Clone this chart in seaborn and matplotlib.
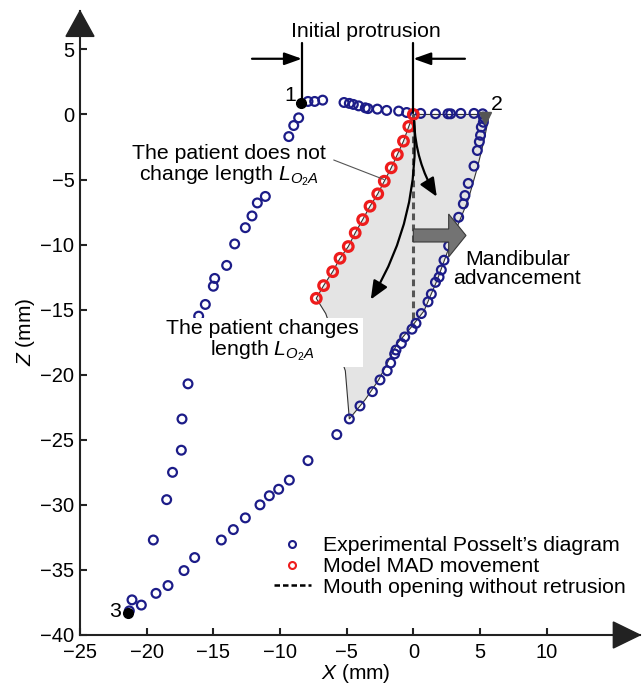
import numpy as np
import pandas as pd
import seaborn as sns
import matplotlib
matplotlib.use("Agg")
import matplotlib.pyplot as plt
from matplotlib.lines import Line2D
from matplotlib.patches import Polygon, FancyArrowPatch

# ---------------- data ----------------
# Experimental Posselt's diagram (blue open circles)
top_x = [-7.9, -7.4, -6.8, -5.2, -4.8, -4.5, -4.1, -3.6, -3.4, -2.7, -2.0, -1.1, -0.5,
         0.55, 1.66, 2.6, 2.8, 3.56, 4.55, 5.2]
top_z = [1.0, 1.0, 1.1, 0.92, 0.85, 0.77, 0.66, 0.51, 0.45, 0.41, 0.31, 0.26, 0.15,
         0.08, 0.05, 0.05, 0.05, 0.08, 0.08, 0.05]
right_x = [5.25, 5.25, 5.1, 5.04, 4.95, 4.8, 4.55, 4.12, 3.87, 3.75, 3.4, 2.65, 2.3, 2.1,
           1.93, 1.66, 1.35, 1.1, 0.6, 0.2, -0.1, -0.65, -0.9, -1.3, -1.4, -1.7, -1.96,
           -2.5, -3.07, -4.0, -4.8, -5.74, -7.9, -9.3, -10.1, -10.8, -11.5, -12.6, -13.5,
           -14.4, -16.4, -17.2, -18.4, -19.3, -20.4, -21.1, -21.3]
right_z = [-0.2, -0.6, -0.97, -1.6, -2.1, -2.77, -3.97, -5.3, -6.23, -6.87, -7.9, -10.1,
           -11.2, -11.95, -12.5, -12.9, -13.8, -14.4, -15.3, -16.05, -16.5, -17.1, -17.6,
           -18.1, -18.4, -19.1, -19.7, -20.4, -21.3, -22.4, -23.4, -24.6, -26.6, -28.1,
           -28.8, -29.3, -30.0, -31.0, -31.9, -32.7, -34.05, -35.05, -36.2, -36.8, -37.7,
           -37.3, -38.15]
left_x = [-19.5, -18.5, -18.06, -17.4, -17.35, -16.9, -16.1, -15.6, -15.0, -14.9, -14.0,
          -13.4, -12.6, -12.1, -11.7, -11.1, -9.34, -8.97, -8.6]
left_z = [-32.7, -29.6, -27.5, -25.8, -23.4, -20.7, -15.5, -14.6, -13.2, -12.6, -11.6,
          -9.95, -8.7, -7.8, -6.8, -6.3, -1.7, -0.85, -0.26]

# Model MAD movement (red open circles)
mad_x = [0.0, -0.34, -0.74, -1.2, -1.66, -2.18, -2.67, -3.25, -3.8, -4.36, -4.88, -5.5,
         -6.05, -6.73, -7.28]
mad_z = [0.0, -0.92, -2.05, -3.08, -4.1, -5.13, -6.1, -7.05, -8.08, -9.1, -10.15, -11.05,
         -12.08, -13.15, -14.13]

# Boundary of shaded region (below red line, then model limit curve)
lower_x = [-6.57, -5.1, -4.8]
lower_z = [-15.3, -19.7, -23.4]
curve_x = [-3.6, -2.6, -1.2, -0.2, 0.8, 1.8, 2.65, 3.3, 4.1, 4.8, 5.3, 5.7]
curve_z = [-21.9, -20.4, -17.6, -16.4, -15.1, -12.7, -10.3, -8.6, -6.6, -4.1, -2.0, 0.0]

# Special positions
p1 = (-8.4, 0.9)
p2 = (5.35, -0.3)
p3 = (-21.4, -38.3)

x_ticks = [-25, -20, -15, -10, -5, 0, 5, 10]
z_ticks = [-40, -35, -30, -25, -20, -15, -10, -5, 0, 5]

exp_df = pd.DataFrame({"X": top_x + right_x + left_x, "Z": top_z + right_z + left_z})
mad_df = pd.DataFrame({"X": mad_x, "Z": mad_z})

# ---------------- style ----------------
sns.set_theme(style="white")
plt.rcParams["font.family"] = ["Liberation Sans", "DejaVu Sans"]
plt.rcParams["mathtext.fontset"] = "custom"
plt.rcParams["mathtext.rm"] = "Liberation Sans"
plt.rcParams["mathtext.it"] = "Liberation Sans:italic"
for k in ["text.color", "axes.labelcolor", "xtick.color", "ytick.color"]:
    plt.rcParams[k] = "black"
FS = 15.3
TFS = 14.5

BLUE = "#1c1c88"
RED = "#ee1c1c"

fig = plt.figure(figsize=(6.42, 6.86), dpi=100)
ax = fig.add_axes([80 / 642, 51 / 686, 560 / 642, 624 / 686])
ax.set_xlim(-25, 17)
ax.set_ylim(-40, 7.95)

# shaded region
poly_x = mad_x + lower_x + curve_x
poly_z = mad_z + lower_z + curve_z
ax.add_patch(Polygon(np.column_stack([poly_x, poly_z]), closed=True, facecolor="#e4e4e4",
                     edgecolor="#333333", linewidth=0.8, zorder=1))

# mouth opening without retrusion (dashed)
ax.plot([0, 0], [0, -16.1], color="#555555", lw=2.2, ls=(0, (2.2, 1.4)), zorder=2)

# scatter points
sns.scatterplot(data=exp_df, x="X", y="Z", ax=ax, marker="o", s=40, facecolor="none",
                edgecolor=BLUE, linewidth=1.6, zorder=3, legend=False)
sns.scatterplot(data=mad_df, x="X", y="Z", ax=ax, marker="o", s=48, facecolor="none",
                edgecolor=RED, linewidth=2.3, zorder=4, legend=False)

# special points
ax.plot(*p1, marker="o", ms=7, color="black", zorder=5)
ax.plot(*p3, marker="o", ms=7, color="black", zorder=5)
ax.plot(*p2, marker="v", ms=9, color="#555555", zorder=5)
ax.text(p1[0] - 0.4, p1[1] + 0.55, "1", fontsize=FS, ha="right", va="center")
ax.text(p2[0] + 0.45, p2[1] + 1.1, "2", fontsize=FS, ha="left", va="center")
ax.text(p3[0] - 0.5, p3[1] + 0.1, "3", fontsize=FS, ha="right", va="center")

# curved black arrows
for end, rad in [((-3.3, -14.4), -0.16), ((1.87, -6.5), 0.14)]:
    ar = FancyArrowPatch((0.05, -0.3), end, connectionstyle=f"arc3,rad={rad}",
                         arrowstyle="-|>,head_length=0.7,head_width=0.3",
                         mutation_scale=16, color="black", lw=1.6, zorder=6)
    ax.add_patch(ar)

# big grey arrow (mandibular advancement)
ax.arrow(0, -9.3, 3.95, 0, width=1.0, head_width=3.3, head_length=1.3,
         length_includes_head=True, fc="#737373", ec="#3a3a3a", lw=0.8, zorder=6)
ax.text(7.8, -11.9, "Mandibular\nadvancement", fontsize=FS, ha="center", va="center",
        linespacing=1.0, zorder=7)

# initial protrusion
ax.plot([-8.36, -8.36], [1.1, 5.5], color="black", lw=1.6, zorder=5)
ax.plot([0, 0], [0.1, 5.5], color="black", lw=1.6, zorder=5)
ax.annotate("", xy=(-8.36, 4.28), xytext=(-12.1, 4.28),
            arrowprops=dict(arrowstyle="-|>,head_length=0.7,head_width=0.25",
                            mutation_scale=15, color="black", lw=1.6, shrinkA=0, shrinkB=0))
ax.annotate("", xy=(0, 4.28), xytext=(3.87, 4.28),
            arrowprops=dict(arrowstyle="-|>,head_length=0.7,head_width=0.25",
                            mutation_scale=15, color="black", lw=1.6, shrinkA=0, shrinkB=0))
ax.text(-3.58, 6.4, "Initial protrusion", fontsize=FS, ha="center", va="center")

# annotations
ax.plot([-5.97, -2.2], [-3.5, -5.0], color="#555555", lw=0.8, zorder=5)
ax.text(-13.8, -3.95, "The patient does not\nchange length $L_{O_2A}$", fontsize=FS,
        ha="center", va="center", linespacing=1.0, zorder=8,
        bbox=dict(facecolor="white", edgecolor="none", pad=1.5))
ax.text(-11.35, -17.4, "The patient changes\nlength $L_{O_2A}$", fontsize=FS,
        ha="center", va="center", linespacing=1.0, zorder=8,
        bbox=dict(facecolor="white", edgecolor="none", pad=3))

# axes styling
for s in ["top", "right"]:
    ax.spines[s].set_visible(False)
for s in ["left", "bottom"]:
    ax.spines[s].set_linewidth(1.5)
    ax.spines[s].set_color("#222222")
ax.set_xticks(x_ticks)
ax.set_yticks(z_ticks)
ax.tick_params(axis="both", direction="in", length=5, width=1.5, labelsize=TFS,
               color="#222222", pad=4)
ax.tick_params(axis="x", pad=6)
ax.tick_params(axis="y", left=True)
ax.tick_params(axis="x", bottom=True)
ax.set_xlabel("$\\it{X}$ (mm)", fontsize=15)
ax.set_ylabel("$\\it{Z}$ (mm)", fontsize=15)
ax.xaxis.set_label_coords(0.493, -0.044)
ax.yaxis.set_label_coords(-0.076, 0.486)

# axis arrows
ax.add_patch(Polygon([[15.0, -41.0], [17.0, -40.0], [15.0, -39.0]], closed=True,
                     color="#222222", clip_on=False, zorder=9))
ax.add_patch(Polygon([[-26.05, 6.0], [-25.0, 7.95], [-23.95, 6.0]], closed=True,
                     color="#222222", clip_on=False, zorder=9))

# legend
handles = [
    Line2D([], [], marker="o", ls="none", mfc="none", mec=BLUE, ms=5, mew=1.5),
    Line2D([], [], marker="o", ls="none", mfc="none", mec=RED, ms=5, mew=1.5),
    Line2D([], [], color="black", lw=1.8, ls=(0, (2.2, 1.2))),
]
labels = ["Experimental Posselt\u2019s diagram", "Model MAD movement",
          "Mouth opening without retrusion"]
ax.legend(handles, labels, loc="upper left", bbox_to_anchor=(0.346, 0.158),
          frameon=False, fontsize=FS, handlelength=1.75, handletextpad=0.55,
          labelspacing=0.08, borderpad=0, borderaxespad=0)

fig.savefig("out.png", dpi=100)
